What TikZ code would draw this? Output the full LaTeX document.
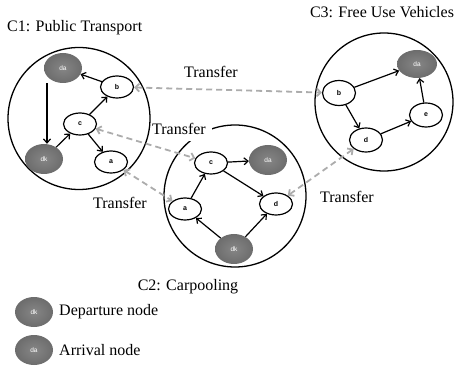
\documentclass[tikz,border=0pt]{standalone}
\usepackage{fontspec}
\setmainfont{Liberation Serif}
\newfontfamily\nodefont{Liberation Sans}
\usetikzlibrary{arrows.meta,shapes.geometric}
\begin{document}
\begin{tikzpicture}[x=1pt,y=-1pt,
  cluster/.style={draw,circle,line width=1.3pt,minimum size=142pt,inner sep=0pt},
  wnode/.style={draw,ellipse,line width=1.2pt,fill=white,minimum width=33pt,minimum height=22pt,inner sep=0pt,font=\nodefont\bfseries\fontsize{7}{8}\selectfont},
  gnode/.style={ellipse,minimum width=38pt,minimum height=30pt,inner sep=0pt,inner color=gray!95,outer color=gray!85!black,text=white,font=\nodefont\fontsize{6.5}{7}\selectfont},
  arr/.style={-{Straight Barb[length=4pt,width=7pt]},line width=1.2pt},
  trans/.style={{Straight Barb[length=4pt,width=8pt]}-{Straight Barb[length=4pt,width=8pt]},draw=gray!65,line width=1.8pt,dash pattern=on 6pt off 4pt},
  lbl/.style={font=\fontsize{16}{18}\selectfont,inner sep=1pt},
  tlbl/.style={lbl,fill=white}
]
\useasboundingbox (0,0) rectangle (458,374);

% clusters
\node[cluster] (C2) at (235,196) {};
\node[cluster,minimum size=138pt] (C3) at (384,102) {};
\node[tlbl,inner xsep=6pt,inner ysep=6pt] (t2) at (179,129) {Transfer};
\node[cluster] (C1) at (79,118.5) {};

\node[lbl,anchor=west] (T1) at (6,28) {C1: Public Transport};
\node[lbl] (T3) at (382,12) {C3: Free Use Vehicles};
\node[lbl] (T2) at (188,287) {C2: Carpooling};

\node[tlbl] (t1) at (211,72) {Transfer};
\node[tlbl] (t3) at (120,203) {Transfer};
\node[tlbl] (t4) at (347,197) {Transfer};

% C1 nodes
\node[gnode] (da1) at (63,68) {da};
\node[gnode] (dk1) at (44,159) {dk};
\node[wnode] (b1) at (117,87) {b};
\node[wnode] (c1) at (80,124) {c};
\node[wnode] (a1) at (111,162) {a};

% C2 nodes
\node[wnode] (c2) at (211,163) {c};
\node[gnode] (da2) at (268,160) {da};
\node[wnode] (a2) at (185,209) {a};
\node[wnode] (d2) at (276,204) {d};
\node[gnode] (dk2) at (234,249) {dk};

% C3 nodes
\node[gnode,minimum width=40pt,minimum height=28pt] (da3) at (417,64) {da};
\node[wnode,minimum height=25pt] (b3) at (339,93) {b};
\node[wnode,minimum height=24pt] (d3) at (366,140) {d};
\node[wnode,minimum height=24pt] (e3) at (426,115) {e};

% transfers
\draw[trans] (b1) -- (b3);
\draw[trans] (c1) -- (c2);
\draw[trans] (a1) -- (a2);
\draw[trans] (d3) -- (d2);

% C1 edges
\draw[arr] (b1) -- (da1);
\draw[arr] ([xshift=-16pt]da1.south) -- ([xshift=3pt]dk1.north);
\draw[arr] (dk1) -- (c1);
\draw[arr] (c1) -- (b1);
\draw[arr] (c1) -- (a1);

% C2 edges
\draw[arr] (a2) -- (c2);
\draw[arr] (c2) -- (da2);
\draw[arr] (c2) -- (d2);
\draw[arr] (dk2) -- (a2);
\draw[arr] (dk2) -- (d2);

% C3 edges
\draw[arr] (b3) -- (da3);
\draw[arr] (b3) -- (d3);
\draw[arr] (d3) -- (e3);
\draw[arr] (e3) -- (da3);

% legend
\node[gnode] (ldk) at (34,312) {dk};
\node[gnode] (lda) at (34,350) {da};
\node[lbl,anchor=west] (ldkt) at (58,312) {Departure node};
\node[lbl,anchor=west] (ldat) at (58,350) {Arrival node};
\end{tikzpicture}
\end{document}
